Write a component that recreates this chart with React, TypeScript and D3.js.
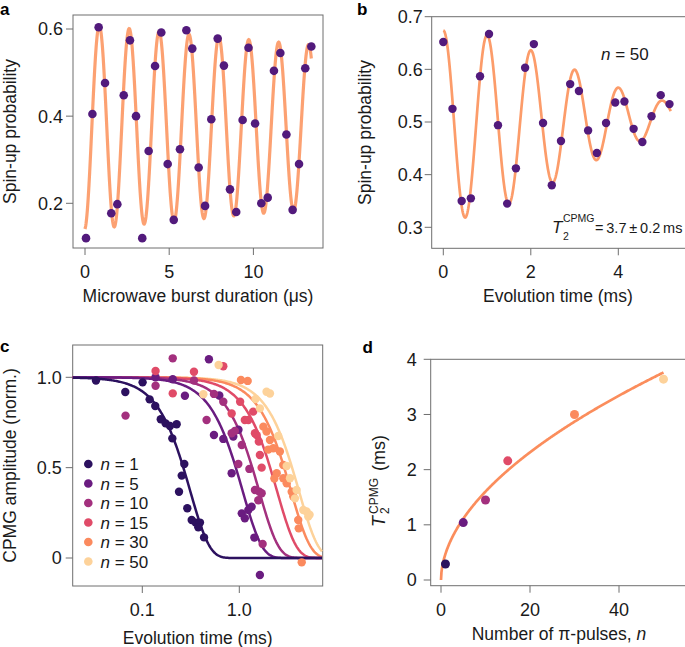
import React from 'react';
import * as d3 from 'd3';

const FONT = '"Liberation Sans", Arial, Helvetica, sans-serif';
const TXT = '#1a1a1a';
const FRAME = '#6e6e6e';

// ---------- Panel a: Rabi oscillation ----------
const aDuration = [0.06, 0.44, 0.81, 1.19, 1.56, 1.92, 2.3, 2.67, 3.03, 3.4, 3.78, 4.16, 4.53, 4.91, 5.27, 5.64, 6.02, 6.37, 6.75, 7.13, 7.5, 7.88, 8.25, 8.61, 8.98, 9.36, 9.71, 10.1, 10.47, 10.85, 11.22, 11.6, 11.96, 12.33, 12.71, 13.08, 13.44];
const aProbability = [0.12, 0.405, 0.604, 0.476, 0.177, 0.198, 0.448, 0.574, 0.4, 0.12, 0.32, 0.515, 0.592, 0.29, 0.162, 0.324, 0.597, 0.555, 0.282, 0.194, 0.393, 0.578, 0.516, 0.232, 0.18, 0.391, 0.557, 0.383, 0.2, 0.213, 0.504, 0.545, 0.358, 0.185, 0.29, 0.51, 0.56];
const aTicksX = [0, 5, 10];
const aTicksY = [0.2, 0.4, 0.6];
// fitted damped oscillation parameters
const aFitOffset = 0.375;
const aFitAmp = 0.236;
const aFitPeriod = 1.775;
const aFitPeakTime = 0.85;
const aFitDecay = 60;
const aFitEnd = 13.45;

// ---------- Panel b: CPMG n = 50 ----------
const bTime = [0, 0.21, 0.42, 0.63, 0.84, 1.045, 1.25, 1.46, 1.66, 1.87, 2.07, 2.28, 2.48, 2.69, 2.9, 3.1, 3.31, 3.51, 3.72, 3.93, 4.14, 4.35, 4.55, 4.76, 4.97, 5.17];
const bProbability = [0.652, 0.525, 0.35, 0.355, 0.587, 0.667, 0.494, 0.345, 0.412, 0.603, 0.648, 0.498, 0.38, 0.464, 0.572, 0.559, 0.484, 0.441, 0.498, 0.537, 0.539, 0.487, 0.462, 0.511, 0.551, 0.534];
const bTicksX = [0, 2, 4];
const bTicksY = [0.3, 0.4, 0.5, 0.6, 0.7];
const bFitMid = 0.494;
const bFitDrift = 0.003;
const bFitAmp = 0.18;
const bFitT2 = 3.8;
const bFitPeriod = 1.003;
const bFitEnd = 5.2;

// ---------- Panel c: CPMG decays ----------
const cPulses = [1, 5, 10, 15, 30, 50];
const cColors = ['#2c115f', '#6a1c80', '#a3307e', '#e04b68', '#fb8a5e', '#fdd29a'];
const cPts1 = [[0.0333, 0.982], [0.0668, 0.919], [0.1007, 0.972], [0.119, 0.878], [0.136, 0.841], [0.155, 0.768], [0.174, 0.745], [0.193, 0.731], [0.226, 0.74], [0.204, 0.662], [0.271, 0.52], [0.255, 0.456], [0.239, 0.367], [0.291, 0.275], [0.323, 0.21], [0.355, 0.196], [0.393, 0.196], [0.378, 0.17], [0.433, 0.114]];
const cPts5 = [[0.137, 1.0], [0.206, 0.989], [0.275, 0.898], [0.486, 1.1], [0.622, 0.899], [0.548, 0.681], [0.684, 0.659], [0.867, 0.672], [0.98, 0.71], [0.834, 0.469], [1.06, 0.247], [1.14, 0.22], [1.24, 0.266], [1.34, 0.284], [1.43, 0.113], [1.63, -0.094]];
const cPts10 = [[0.0672, 0.788], [0.206, 1.105], [0.137, 0.953], [0.341, 0.982], [0.46, 0.764], [0.548, 0.908], [0.684, 0.865], [0.834, 0.69], [0.9, 0.703], [1.06, 0.625], [0.977, 0.52], [1.27, 0.493], [1.45, 0.376], [1.57, 0.32], [1.61, 0.367], [1.7, 0.358], [1.74, 0.078]];
const cPts15 = [[0.137, 1.035], [0.206, 0.911], [0.341, 1.031], [0.684, 1.061], [0.834, 0.8], [1.02, 0.865], [1.14, 0.764], [1.24, 0.764], [1.39, 0.81], [1.45, 0.69], [1.51, 0.68], [1.59, 0.644], [1.63, 0.57], [1.7, 0.5]];
const cPts30 = [[1.04, 0.985], [1.22, 0.98], [1.77, 0.727], [1.91, 0.7], [2.07, 0.653], [1.99, 0.6], [2.24, 0.607], [2.62, 0.589], [2.43, 0.469], [2.3, 0.44], [2.84, 0.515], [2.84, 0.441], [3.08, 0.413], [3.47, 0.367], [3.6, 0.34], [4.05, 0.21], [4.1, 0.164], [4.4, -0.024]];
const cPts50 = [[0.426, 0.906], [0.612, 1.068], [1.47, 0.88], [1.63, 0.828], [1.91, 0.92], [2.07, 0.91], [2.52, 0.675], [3.08, 0.509], [3.33, 0.441], [3.75, 0.33], [3.9, 0.376], [4.57, 0.266], [4.94, 0.257], [5.14, 0.229], [5.3, 0.24]];
const cSeries = [cPts1, cPts5, cPts10, cPts15, cPts30, cPts50];
// stretched-exponential fit parameters per n
const cFitT = [0.313, 1.087, 1.607, 2.457, 3.426, 4.135];
const cFitAlpha = [2.2, 2.2, 2.2, 2.2, 2.2, 2.2];
const cTicksX = [0.1, 1.0];
const cTickLabelsX = ['0.1', '1.0'];
const cTicksY = [0, 0.5, 1.0];
const cTickLabelsY = ['0', '0.5', '1.0'];

// ---------- Panel d: T2 vs n ----------
const dPulses = [1, 5, 10, 15, 30, 50];
const dT2 = [0.29, 1.04, 1.45, 2.16, 3.0, 3.64];
const dTicksX = [0, 20, 40];
const dTicksY = [0, 1, 2, 3, 4];
const dFitPrefactor = 0.473;
const dFitExponent = 0.53;

const TICK = 7;
const TICK_FS = 18;
const LABEL_FS = 17.5;

function Box({ x0, x1, y0, y1 }: any) {
  return <rect x={x0} y={y0} width={x1 - x0} height={y1 - y0} fill="none" stroke={FRAME} strokeWidth={1} />;
}

function XTicks({ scale, ticks, labels, y, fmt }: any) {
  return (
    <g>
      {ticks.map((t: number, i: number) => (
        <g key={i}>
          <line x1={scale(t)} x2={scale(t)} y1={y} y2={y + TICK} stroke={FRAME} />
          <text x={scale(t)} y={y + 30} textAnchor="middle" fontSize={TICK_FS} fill={TXT}>
            {labels ? labels[i] : fmt ? fmt(t) : String(t)}
          </text>
        </g>
      ))}
    </g>
  );
}

function YTicks({ scale, ticks, labels, x, fmt, gap = 10 }: any) {
  return (
    <g>
      {ticks.map((t: number, i: number) => (
        <g key={i}>
          <line x1={x - TICK} x2={x} y1={scale(t)} y2={scale(t)} stroke={FRAME} />
          <text x={x - gap} y={scale(t)} dy="0.36em" textAnchor="end" fontSize={TICK_FS} fill={TXT}>
            {labels ? labels[i] : fmt ? fmt(t) : String(t)}
          </text>
        </g>
      ))}
    </g>
  );
}

export default function App() {
  // ---- panel a
  const aBox = { x0: 73, x1: 323, y0: 15, y1: 248 };
  const ax = d3.scaleLinear().domain([0, 10]).range([85, 253.4]);
  const ay = d3.scaleLinear().domain([0.2, 0.6]).range([203.3, 29]);
  const aFit = d3.range(0, aFitEnd + 1e-9, 0.02).map((t) => [
    t,
    aFitOffset + aFitAmp * Math.exp(-t / aFitDecay) * Math.cos((2 * Math.PI * (t - aFitPeakTime)) / aFitPeriod),
  ]);
  const aLine = d3.line<number[]>().x((d) => ax(d[0])).y((d) => ay(d[1]));

  // ---- panel b
  const bBox = { x0: 431.7, x1: 700, y0: 16.7, y1: 248.3 };
  const bx = d3.scaleLinear().domain([0, 4]).range([443.3, 618.3]);
  const by = d3.scaleLinear().domain([0.3, 0.7]).range([227.3, 16.7]);
  const bFit = d3.range(0, bFitEnd + 1e-9, 0.01).map((t) => [
    t,
    bFitMid + bFitDrift * t + bFitAmp * Math.exp(-Math.pow(t / bFitT2, 2)) * Math.cos((2 * Math.PI * t) / bFitPeriod),
  ]);
  const bLine = d3.line<number[]>().x((d) => bx(d[0])).y((d) => by(d[1]));

  // ---- panel c
  const cBox = { x0: 72.7, x1: 322.7, y0: 345, y1: 586 };
  const cx = d3.scaleLog().domain([0.1, 1]).range([142.3, 239.3]);
  const cy = d3.scaleLinear().domain([0, 1]).range([558, 377.3]);
  const cMin = cx.invert(cBox.x0);
  const cMax = cx.invert(cBox.x1);
  const cLogs = d3.range(Math.log10(cMin), Math.log10(cMax) + 1e-9, 0.01);
  const cLine = d3.line<number[]>().x((d) => cx(d[0])).y((d) => cy(d[1]));
  const cFits = cFitT.map((T, i) => cLogs.map((l) => {
    const t = Math.pow(10, l);
    return [t, Math.exp(-Math.pow(t / T, cFitAlpha[i]))];
  }));

  // ---- panel d
  const dBox = { x0: 430.7, x1: 700, y0: 359.3, y1: 585.7 };
  const dx = d3.scaleLinear().domain([0, 40]).range([441, 619]);
  const dy = d3.scaleLinear().domain([0, 4]).range([580, 359.3]);
  const dFit = d3.range(0, 50.0001, 0.1).map((n) => [n, dFitPrefactor * Math.pow(n, dFitExponent)]);
  const dLine = d3.line<number[]>().x((d) => dx(d[0])).y((d) => dy(d[1]));

  const purple = '#521a7c';
  const orange = '#fc9c6a';

  return (
    <svg width={685} height={647} viewBox="0 0 685 647" style={{ position: 'absolute', left: 0, top: 0, background: '#fff' }} fontFamily={FONT}>
      <rect width={685} height={647} fill="#fff" />
      {/* ---------------- a ---------------- */}
      <text x={0} y={15} fontSize={17} fontWeight="bold" fill="#000">a</text>
      <Box {...aBox} />
      <XTicks scale={ax} ticks={aTicksX} y={aBox.y1} />
      <YTicks scale={ay} ticks={aTicksY} x={aBox.x0} fmt={(v: number) => v.toFixed(1)} />
      <path d={aLine(aFit as any) || ''} fill="none" stroke={orange} strokeWidth={3.2} strokeOpacity={0.95} />
      {aDuration.map((t, i) => (
        <circle key={i} cx={ax(t)} cy={ay(aProbability[i])} r={4.3} fill={purple} />
      ))}
      <text x={(aBox.x0 + aBox.x1) / 2} y={302} textAnchor="middle" fontSize={LABEL_FS} fill={TXT}>Microwave burst duration (μs)</text>
      <text transform={`translate(15.5,${(aBox.y0 + aBox.y1) / 2}) rotate(-90)`} textAnchor="middle" fontSize={LABEL_FS} fill={TXT}>Spin-up probability</text>

      {/* ---------------- b ---------------- */}
      <text x={357} y={15} fontSize={17} fontWeight="bold" fill="#000">b</text>
      <Box {...bBox} />
      <XTicks scale={bx} ticks={bTicksX} y={bBox.y1} />
      <YTicks scale={by} ticks={bTicksY} x={bBox.x0} fmt={(v: number) => v.toFixed(1)} gap={9} />
      <path d={bLine(bFit as any) || ''} fill="none" stroke={orange} strokeWidth={2.7} />
      {bTime.map((t, i) => (
        <circle key={i} cx={bx(t)} cy={by(bProbability[i])} r={4.2} fill={purple} />
      ))}
      <text x={601} y={60} fontSize={17} fill={TXT}><tspan fontStyle="italic">n</tspan> = 50</text>
      <text x={552} y={233} fontSize={17} fill={TXT} fontStyle="italic">T</text>
      <text x={563} y={222} fontSize={10.5} fill={TXT}>CPMG</text>
      <text x={563} y={240} fontSize={10.5} fill={TXT}>2</text>
      <text x={595} y={233} fontSize={14.5} wordSpacing={-1.2} fill={TXT}>= 3.7 ± 0.2 ms</text>
      <text x={(bBox.x0 + 640) / 2 + 22} y={302} textAnchor="middle" fontSize={LABEL_FS} fill={TXT}>Evolution time (ms)</text>
      <text transform={`translate(371,${(bBox.y0 + bBox.y1) / 2}) rotate(-90)`} textAnchor="middle" fontSize={LABEL_FS} fill={TXT}>Spin-up probability</text>

      {/* ---------------- c ---------------- */}
      <text x={0} y={352} fontSize={17} fontWeight="bold" fill="#000">c</text>
      <Box {...cBox} />
      <XTicks scale={cx} ticks={cTicksX} labels={cTickLabelsX} y={cBox.y1} />
      <YTicks scale={cy} ticks={cTicksY} labels={cTickLabelsY} x={cBox.x0} gap={11} />
      <g>
        {cFits.map((pts, i) => ({ pts, i })).reverse().map(({ pts, i }) => (
          <path key={i} d={cLine(pts as any) || ''} fill="none" stroke={cColors[i]} strokeWidth={2.5} />
        ))}
      </g>
      {cSeries.map((pts, i) => (
        <g key={i}>
          {pts.map((p, j) => (
            <circle key={j} cx={cx(p[0])} cy={cy(p[1])} r={4.2} fill={cColors[i]} />
          ))}
        </g>
      ))}
      {cPulses.map((n, i) => (
        <g key={n}>
          <circle cx={88.3} cy={464 + i * 19.5} r={4.3} fill={cColors[i]} />
          <text x={100.5} y={464 + i * 19.5 + 6} fontSize={17} fill={TXT}><tspan fontStyle="italic">n</tspan> = {n}</text>
        </g>
      ))}
      <text x={(cBox.x0 + cBox.x1) / 2} y={644} textAnchor="middle" fontSize={LABEL_FS} fill={TXT}>Evolution time (ms)</text>
      <text transform={`translate(15.5,${(cBox.y0 + cBox.y1) / 2}) rotate(-90)`} textAnchor="middle" fontSize={LABEL_FS} fill={TXT}>CPMG amplitude (norm.)</text>

      {/* ---------------- d ---------------- */}
      <text x={362.5} y={353} fontSize={17} fontWeight="bold" fill="#000">d</text>
      <Box {...dBox} />
      <XTicks scale={dx} ticks={dTicksX} y={dBox.y1} />
      <YTicks scale={dy} ticks={dTicksY} x={dBox.x0} gap={14} />
      <path d={dLine(dFit as any) || ''} fill="none" stroke="#fb8d5c" strokeWidth={2.7} />
      {dPulses.map((n, i) => (
        <circle key={n} cx={dx(n)} cy={dy(dT2[i])} r={4.5} fill={cColors[i]} />
      ))}
      <text x={559} y={640} textAnchor="middle" fontSize={LABEL_FS} fill={TXT}>Number of π-pulses, <tspan fontStyle="italic">n</tspan></text>
      <g transform="translate(385,527) rotate(-90)">
        <text x={0} y={0} fontSize={18} fill={TXT} fontStyle="italic">T</text>
        <text x={13} y={-7} fontSize={12} fill={TXT}>CPMG</text>
        <text x={13} y={4} fontSize={12} fill={TXT}>2</text>
        <text x={56} y={0} fontSize={18} fill={TXT}>(ms)</text>
      </g>
    </svg>
  );
}
